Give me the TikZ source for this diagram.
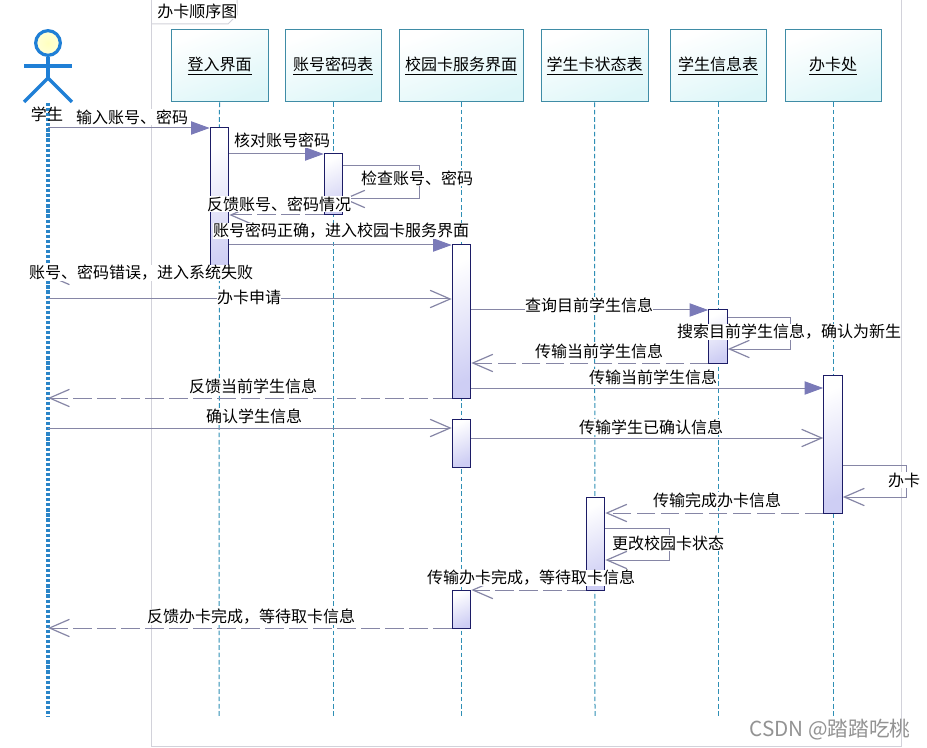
\documentclass[tikz,border=0pt]{standalone}
\usepackage{fontspec}
\setmainfont{Noto Sans CJK SC}
\usetikzlibrary{arrows.meta,calc}
\definecolor{boxline}{HTML}{3F8CA6}
\definecolor{boxfill}{HTML}{DDF6F8}
\definecolor{actline}{HTML}{1C1C66}
\definecolor{actfill}{HTML}{CECEF4}
\definecolor{msgline}{HTML}{8686A6}
\definecolor{headfill}{HTML}{7A7AB8}
\definecolor{lifeline}{HTML}{2F8FB5}
\definecolor{actorblue}{HTML}{1F7FD6}
\definecolor{actordots}{HTML}{2A85C8}
\definecolor{framec}{HTML}{D2D2DA}
\tikzset{
  x=0.75pt,y=-0.75pt,
  headbox/.style={draw=boxline,line width=0.75pt,top color=white,bottom color=boxfill,shading angle=20,minimum height=54pt,inner sep=0pt,font=\fontsize{12}{14}\selectfont},
  actbox/.style={draw=actline,line width=0.75pt,left color=white,right color=actfill,shading angle=25,minimum width=14pt,inner sep=0pt},
  life/.style={draw=lifeline,line width=0.75pt,dash pattern=on 3.5pt off 2pt},
  actorlife/.style={draw=actordots,line width=2.5pt,dash pattern=on 2.4pt off 1.4pt},
  actorlimb/.style={draw=actorblue,line width=2.4pt},
  msgfill/.style={draw=msgline,line width=0.75pt,-{Triangle[length=14pt,width=10pt,color=headfill,fill=headfill]}},
  msgopen/.style={draw=msgline,line width=0.75pt,-{Straight Barb[length=15pt,width=13pt,line width=0.9pt]}},
  msgdash/.style={msgopen,dash pattern=on 14pt off 4pt},
  lab/.style={fill=white,inner xsep=0pt,inner ysep=0.5pt,font=\fontsize{12}{14}\selectfont},
}
\begin{document}
\begin{tikzpicture}
\useasboundingbox (0,0) rectangle (927,748);
\fill[white] (0,0) rectangle (927,748);
% frame
\draw[framec,line width=0.75pt] (151,0) rectangle (901,746);
\draw[framec,line width=0.75pt] (151,24) -- (228,24) -- (237,15) -- (237,0);
\node[lab,anchor=west] (title) at (157,11) {办卡顺序图};
% header boxes
\node[headbox,minimum width=72.75pt] (H1) at (219.5,66) {\underline{登入界面}};
\node[headbox,minimum width=72pt] (H2) at (333,66) {\underline{账号密码表}};
\node[headbox,minimum width=93pt] (H3) at (461,66) {\underline{校园卡服务界面}};
\node[headbox,minimum width=80.25pt] (H4) at (594.5,66) {\underline{学生卡状态表}};
\node[headbox,minimum width=72pt] (H5) at (718,66) {\underline{学生信息表}};
\node[headbox,minimum width=72pt] (H6) at (833,66) {\underline{办卡处}};
% lifeline ends
\coordinate (E0) at (48,717);
\coordinate (E1) at (219,717);
\coordinate (E2) at (333,717);
\coordinate (E3) at (461,717);
\coordinate (E4) at (595,717);
\coordinate (E5) at (718,717);
\coordinate (E6) at (833,717);
\draw[life] (H1.south) -- (E1);
\draw[life] (H2.south) -- (E2);
\draw[life] (H3.south) -- (E3);
\draw[life] (H4.south) -- (E4);
\draw[life] (H5.south) -- (E5);
\draw[life] (H6.south) -- (E6);
% actor
\coordinate (hip) at (48,78);
\coordinate (L0) at (48,103);
\draw[actorlife] (L0) -- (E0);
\node[circle,draw=actorblue,line width=2.4pt,inner color=yellow!25,outer color=white!85!yellow,minimum size=18.5pt,inner sep=0pt] (head) at (48,43) {};
\draw[actorlimb] (head.south) -- (hip);
\draw[actorlimb] (24,66) -- (72,66);
\draw[actorlimb] (24,102) -- (hip) -- (72,102);
\node[lab,fill=none] (actorname) at (47,114) {学生};
% activations
\node[actbox,minimum height=114pt] (A1) at (219.5,204) {};
\node[actbox,minimum height=45.75pt] (A2) at (333.5,184.5) {};
\node[actbox,minimum height=114.75pt] (A3) at (461.5,321.5) {};
\node[actbox,minimum height=36pt] (A3b) at (461.5,443) {};
\node[actbox,minimum height=28.5pt] (A3c) at (461.5,609) {};
\node[actbox,minimum height=69.75pt] (A4) at (595.5,543.5) {};
\node[actbox,minimum height=39.75pt] (A5) at (718,336.5) {};
\node[actbox,minimum height=103.5pt] (A6) at (833,444) {};
% messages
\coordinate (m1) at (0,128);
\draw[msgfill] (L0 |- m1) -- (A1.west |- m1);
\coordinate (m2) at (0,154);
\draw[msgfill] (A1.east |- m2) -- (A2.west |- m2);
\coordinate (s1) at (419,166); \coordinate (s1b) at (419,199);
\draw[msgopen] (A2.east |- s1) -- (s1) -- (s1b) -- (A2.east |- s1b);
\coordinate (m4) at (0,215);
\draw[msgdash] (A2.west |- m4) -- (A1.east |- m4);
\coordinate (m5) at (0,245);
\draw[msgfill] (A1.east |- m5) -- (A3.west |- m5);
\coordinate (m6) at (0,276);
\draw[msgdash] (A1.west |- m6) -- (L0 |- m6);
\coordinate (m7) at (0,299);
\draw[msgopen] (L0 |- m7) -- (A3.west |- m7);
\coordinate (m8) at (0,310);
\draw[msgfill] (A3.east |- m8) -- (A5.west |- m8);
\coordinate (s2) at (790,318); \coordinate (s2b) at (790,349);
\draw[msgopen] (A5.east |- s2) -- (s2) -- (s2b) -- (A5.east |- s2b);
\coordinate (m10) at (0,363);
\draw[msgdash] (A5.west |- m10) -- (A3.east |- m10);
\coordinate (m11) at (0,388);
\draw[msgfill] (A3.east |- m11) -- (A6.west |- m11);
\coordinate (m12) at (0,398);
\draw[msgdash] (A3.west |- m12) -- (L0 |- m12);
\coordinate (m13) at (0,428);
\draw[msgopen] (L0 |- m13) -- (A3b.west |- m13);
\coordinate (m14) at (0,438);
\draw[msgopen] (A3b.east |- m14) -- (A6.west |- m14);
\coordinate (s3) at (906,465); \coordinate (s3b) at (906,497);
\draw[msgopen] (A6.east |- s3) -- (s3) -- (s3b) -- (A6.east |- s3b);
\coordinate (m16) at (0,513);
\draw[msgdash] (A6.west |- m16) -- (A4.east |- m16);
\coordinate (s4) at (669,528); \coordinate (s4b) at (669,560);
\draw[msgopen] (A4.east |- s4) -- (s4) -- (s4b) -- (A4.east |- s4b);
\coordinate (m18) at (0,590);
\draw[msgdash] (A4.west |- m18) -- (A3c.east |- m18);
\coordinate (m19) at (0,628);
\draw[msgdash] (A3c.west |- m19) -- (L0 |- m19);
% labels
\node[lab] (t1) at (132,117) {输入账号、密码};
\node[lab] (t2) at (282,140) {核对账号密码};
\node[lab] (t3) at (417,178) {检查账号、密码};
\node[lab] (t4) at (279,204) {反馈账号、密码情况};
\node[lab] (t5) at (341,231) {账号密码正确，进入校园卡服务界面};
\node[lab] (t6) at (141,273) {账号、密码错误，进入系统失败};
\node[lab] (t7) at (249,297) {办卡申请};
\node[lab] (t8) at (589,305) {查询目前学生信息};
\node[lab] (t9) at (789,332) {搜索目前学生信息，确认为新生};
\node[lab] (t10) at (599,351) {传输当前学生信息};
\node[lab] (t11) at (653,377) {传输当前学生信息};
\node[lab] (t12) at (253,386) {反馈当前学生信息};
\node[lab] (t13) at (254,416) {确认学生信息};
\node[lab] (t14) at (651,427) {传输学生已确认信息};
\node[lab] (t15) at (904,480) {办卡};
\node[lab] (t16) at (717,500) {传输完成办卡信息};
\node[lab] (t17) at (668,543) {更改校园卡状态};
\node[lab] (t18) at (531,578) {传输办卡完成，等待取卡信息};
\node[lab] (t19) at (251,617) {反馈办卡完成，等待取卡信息};
\node[text=gray!85,inner sep=0pt,font=\fontsize{15.5}{18}\selectfont] (wm) at (830,730) {CSDN @踏踏吃桃};
\end{tikzpicture}
\end{document}
